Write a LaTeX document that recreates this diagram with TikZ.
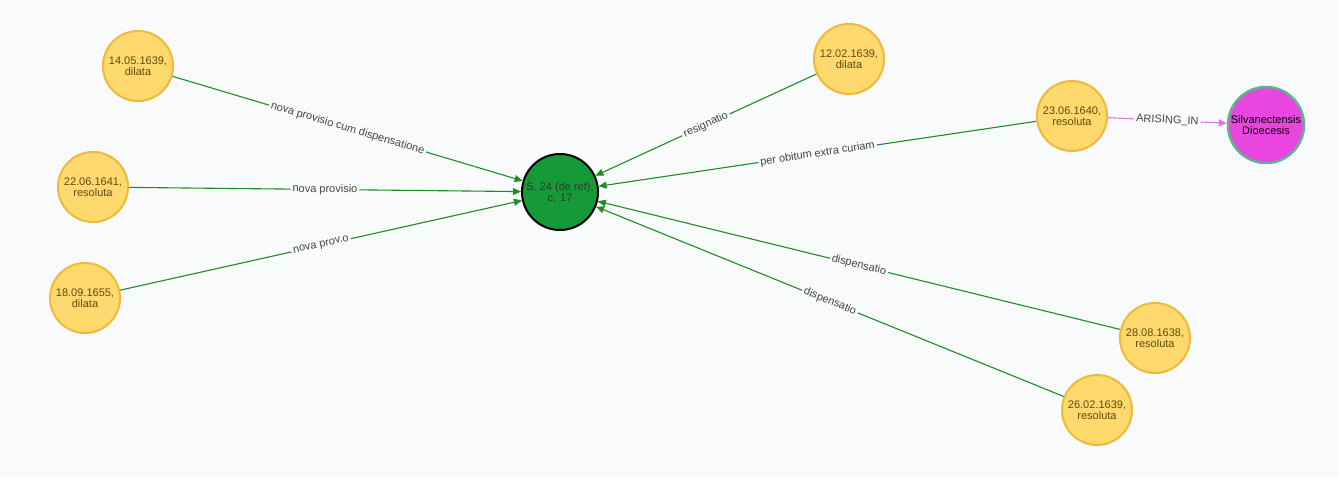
\documentclass[tikz,border=0pt]{standalone}
\usepackage{fontspec}
\setmainfont{Liberation Sans}
\usetikzlibrary{arrows.meta}
\definecolor{bgc}{HTML}{F8FAFC}
\definecolor{yfill}{HTML}{FFD86E}
\definecolor{ydraw}{HTML}{EDBA39}
\definecolor{ytext}{HTML}{604A0E}
\definecolor{gfill}{HTML}{169A38}
\definecolor{mfill}{HTML}{E846DE}
\definecolor{mdraw}{HTML}{5FB48C}
\definecolor{edgec}{HTML}{228B22}
\definecolor{arisec}{HTML}{DD77DD}
\definecolor{lblc}{HTML}{444444}
\tikzset{
  x=1pt, y=-1pt,
  datenode/.style={circle, draw=ydraw, fill=yfill, line width=2pt, minimum size=70pt, inner sep=0pt, align=center, text=ytext, font=\fontsize{11}{11.5}\selectfont},
  centernode/.style={circle, draw=black, fill=gfill, line width=2pt, minimum size=76pt, inner sep=0pt, align=center, text=black!80, font=\fontsize{11}{11.5}\selectfont},
  placenode/.style={circle, draw=mdraw, fill=mfill, line width=2.5pt, minimum size=76pt, inner sep=0pt, align=center, text=black, font=\fontsize{11}{11.5}\selectfont},
  edge/.style={draw=edgec, line width=1.1pt, -{Triangle[length=8pt,width=7pt]}},
  arise/.style={draw=arisec, line width=1.1pt, -{Triangle[length=8pt,width=7pt]}},
  lbl/.style={sloped, fill=bgc, inner sep=2pt, text=lblc, font=\fontsize{11}{12}\selectfont},
}
\begin{document}
\begin{tikzpicture}
\fill[bgc] (0,0) rectangle (1339,477);
\useasboundingbox (0,0) rectangle (1339,477);

\node[centernode] (c) at (560,192) {S. 24 (de ref),\\c. 17};
\node[datenode] (a1) at (138,66) {14.05.1639,\\dilata};
\node[datenode] (a2) at (93,187) {22.06.1641,\\resoluta};
\node[datenode] (a3) at (85,298) {18.09.1655,\\dilata};
\node[datenode] (b1) at (849,59) {12.02.1639,\\dilata};
\node[datenode] (b2) at (1072,116) {23.06.1640,\\resoluta};
\node[datenode] (b3) at (1155,338) {28.08.1638,\\resoluta};
\node[datenode] (b4) at (1097,410) {26.02.1639,\\resoluta};
\node[placenode] (p) at (1266,125) {Silvanectensis\\Dioecesis};

\draw[edge] (a1) -- node[lbl] {nova provisio cum dispensatione} (c);
\draw[edge] (a2) -- node[lbl] {nova provisio} (c);
\draw[edge] (a3) -- node[lbl] {nova prov.o} (c);
\draw[edge] (b1) -- node[lbl] {resignatio} (c);
\draw[edge] (b2) -- node[lbl] {per obitum extra curiam} (c);
\draw[edge] (b3) -- node[lbl] {dispensatio} (c);
\draw[edge] (b4) -- node[lbl] {dispensatio} (c);
\draw[arise] (b2) -- node[lbl] {ARISING\_IN} (p);
\end{tikzpicture}
\end{document}
